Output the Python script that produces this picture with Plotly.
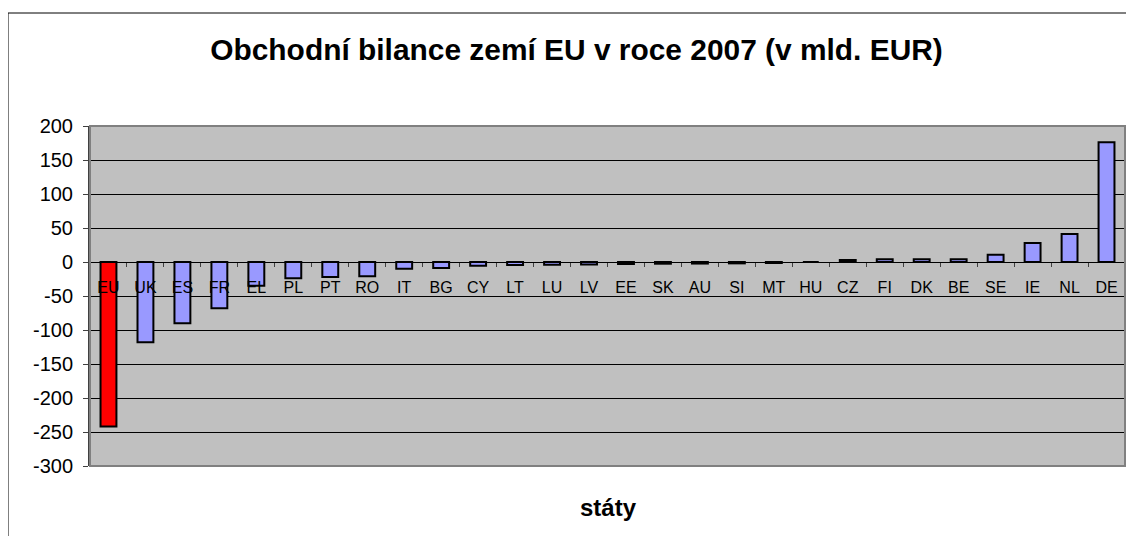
import plotly.graph_objects as go

categories = ["EU", "UK", "ES", "FR", "EL", "PL", "PT", "RO", "IT", "BG", "CY", "LT", "LU", "LV",
              "EE", "SK", "AU", "SI", "MT", "HU", "CZ", "FI", "DK", "BE", "SE", "IE", "NL", "DE"]
values = [-242, -118, -90, -68, -35, -24, -22, -21, -10, -9, -5.5, -4.5, -4, -3.5,
          -3, -2.5, -2.3, -2, -1.5, 0, 3, 4, 4, 4, 10.5, 28, 41, 176]
y_ticks = [200, 150, 100, 50, 0, -50, -100, -150, -200, -250, -300]

title_text = "Obchodní bilance zemí EU v roce 2007 (v mld. EUR)"
x_title = "státy"

colors = ["#FF0000" if c == "EU" else "#9999FF" for c in categories]

fig = go.Figure()
fig.add_trace(go.Bar(
    x=categories, y=values,
    marker=dict(color=colors, line=dict(color="#000000", width=2)),
    showlegend=False,
))

# page body has an 8px margin: figure is drawn 8px smaller on each side
OFF = 8
W, H = 1134 - 2 * OFF, 544 - 2 * OFF
L, R, T, B = 90 - OFF, 1, 126 - OFF, H - (466 - OFF)
PW, PH = W - L - R, H - T - B

fig.update_layout(
    width=W, height=H,
    margin=dict(l=L, r=R, t=T, b=B, pad=0),
    paper_bgcolor="white",
    plot_bgcolor="#C0C0C0",
    bargap=0.57,
    font=dict(family="Arial, Liberation Sans, sans-serif", color="#000000"),
    title=dict(text="<b>" + title_text + "</b>", x=(576.5 - OFF) / W, xref="container", xanchor="center",
               y=1 - (50 - OFF) / H, yref="container", yanchor="middle",
               font=dict(size=29.9, color="#000000")),
)

fig.update_yaxes(
    range=[-300, 200], tickvals=y_ticks, ticktext=[str(v) for v in y_ticks],
    showgrid=True, gridcolor="#000000", gridwidth=1,
    zeroline=False,
    showline=True, linecolor="#404040", linewidth=2,
    ticks="outside", ticklen=5, tickcolor="#404040",
    tickfont=dict(size=20), ticklabelstandoff=6,
    fixedrange=True,
)

fig.update_xaxes(
    type="category",
    anchor="free", position=0.6,
    showline=True, linecolor="#000000", linewidth=1,
    ticks="outside", tickson="boundaries", ticklen=4, tickcolor="#404040",
    showgrid=False,
    tickfont=dict(size=16), ticklabelstandoff=11,
    range=[-0.5, len(categories) - 0.5],
)

# plot area border
fig.add_shape(type="rect", xref="paper", yref="paper", x0=0, x1=1, y0=0, y1=1,
              line=dict(color="#808080", width=2), fillcolor="rgba(0,0,0,0)", layer="above")
# chart outer frame (left and top edges visible)
fig.add_shape(type="rect", xref="paper", yref="paper",
              x0=(8 - OFF - L) / PW, x1=1.5,
              y0=-1.0, y1=1 + (T - (13 - OFF)) / PH,
              line=dict(color="#000000", width=1), fillcolor="rgba(0,0,0,0)")

fig.add_annotation(text="<b>" + x_title + "</b>", xref="paper", yref="paper",
                   x=(608 - OFF - L) / PW, y=-((507 - OFF) - (H - B)) / PH,
                   xanchor="center", yanchor="middle",
                   showarrow=False, font=dict(size=24, color="#000000"))

fig.write_html("out.html")
